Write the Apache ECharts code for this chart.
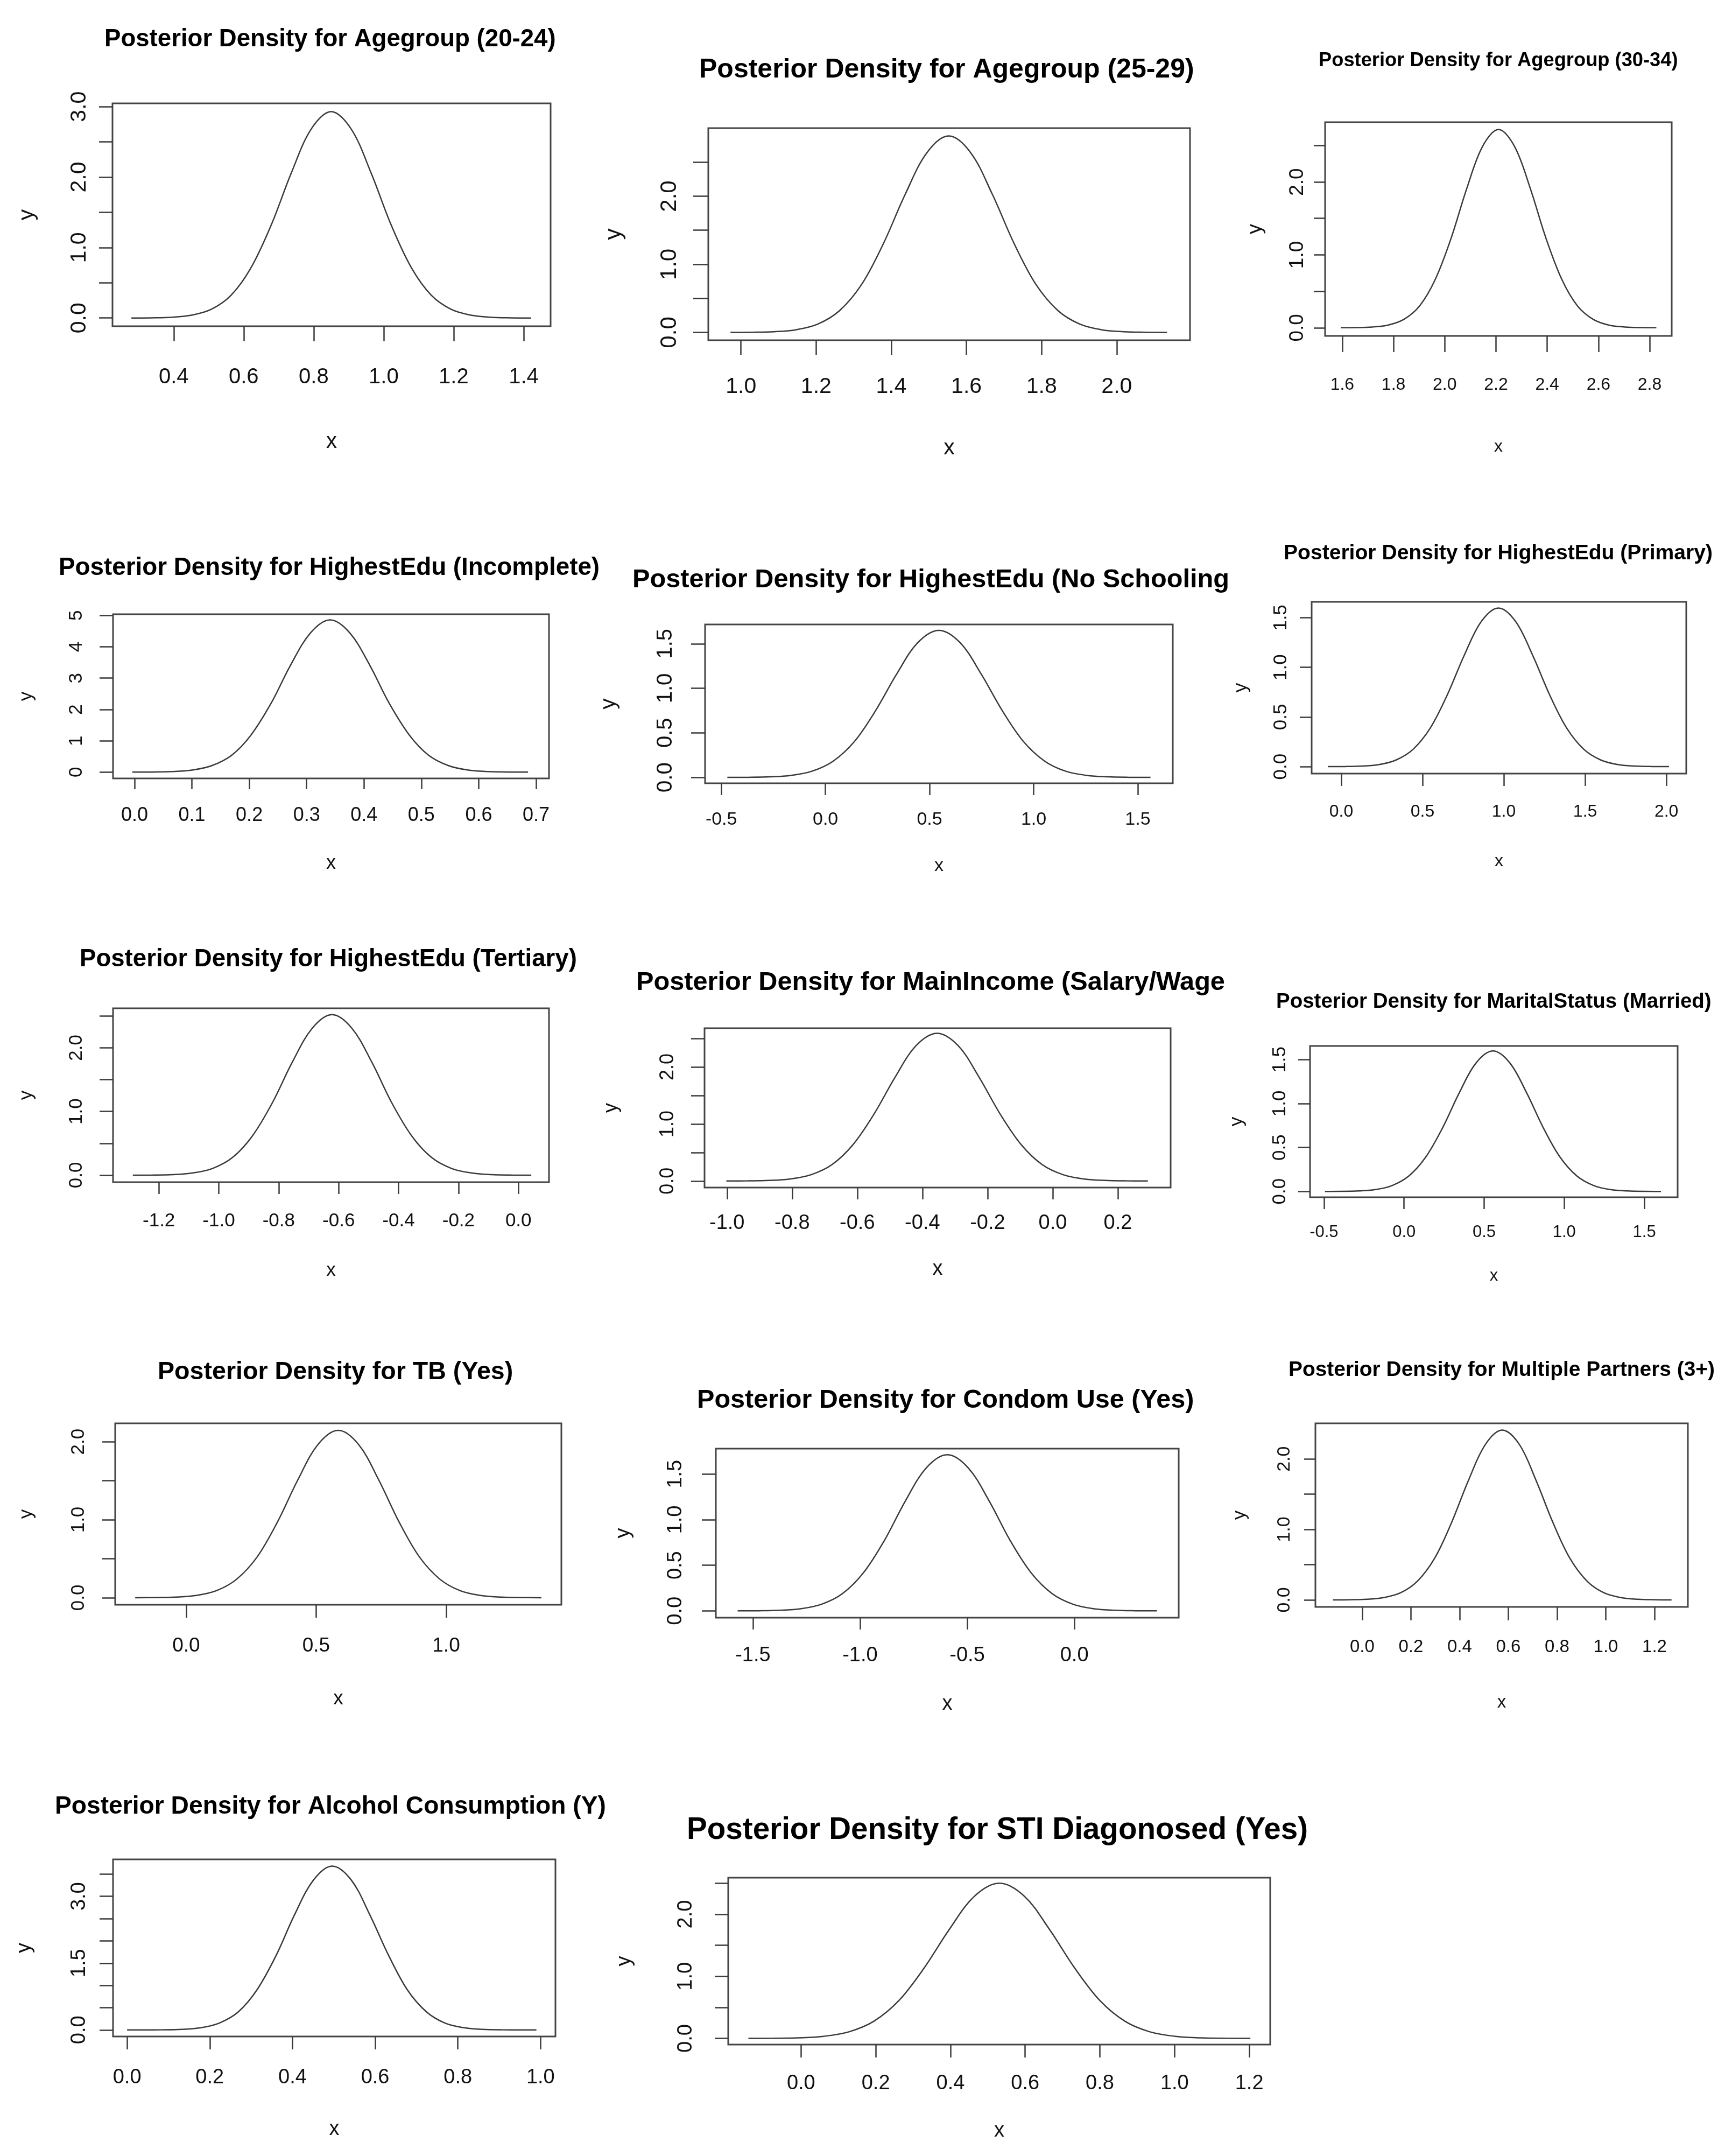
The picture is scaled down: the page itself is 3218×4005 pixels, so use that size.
<!DOCTYPE html>
<html><head><meta charset="utf-8">
<script src="https://cdn.jsdelivr.net/npm/echarts@6/dist/echarts.min.js"></script>
<style>html,body{margin:0;padding:0;background:#fff}#c{width:3218px;height:4005px}</style>
</head><body><div id="c"></div>
<script>
// ---------- titles ----------
const titles = [
  'Posterior Density for Agegroup (20-24)',
  'Posterior Density for Agegroup (25-29)',
  'Posterior Density for Agegroup (30-34)',
  'Posterior Density for HighestEdu (Incomplete)',
  'Posterior Density for HighestEdu (No Schooling',
  'Posterior Density for HighestEdu (Primary)',
  'Posterior Density for HighestEdu (Tertiary)',
  'Posterior Density for MainIncome (Salary/Wage',
  'Posterior Density for MaritalStatus (Married)',
  'Posterior Density for TB (Yes)',
  'Posterior Density for Condom Use (Yes)',
  'Posterior Density for Multiple Partners (3+)',
  'Posterior Density for Alcohol Consumption (Y)',
  'Posterior Density for STI Diagonosed (Yes)'
];

// ---------- series values (x, density) ----------
const age2024X = [0.279,0.336,0.393,0.450,0.507,0.564,0.621,0.679,0.736,0.793,0.850,0.907,0.964,1.021,1.079,1.136,1.193,1.250,1.307,1.364,1.421];
const age2024Y = [0.000,0.002,0.010,0.039,0.122,0.323,0.715,1.325,2.059,2.683,2.930,2.683,2.059,1.325,0.715,0.323,0.122,0.039,0.010,0.002,0.000];
const age2529X = [0.972,1.030,1.088,1.146,1.204,1.262,1.321,1.379,1.437,1.495,1.553,1.611,1.669,1.727,1.785,1.844,1.902,1.960,2.018,2.076,2.134];
const age2529Y = [0.000,0.002,0.010,0.038,0.121,0.318,0.704,1.304,2.027,2.641,2.885,2.641,2.027,1.304,0.704,0.318,0.121,0.038,0.010,0.002,0.000];
const age3034X = [1.594,1.655,1.717,1.778,1.840,1.902,1.963,2.025,2.086,2.148,2.210,2.272,2.334,2.395,2.457,2.518,2.580,2.641,2.703,2.765,2.826];
const age3034Y = [0.000,0.002,0.010,0.036,0.114,0.300,0.663,1.230,1.911,2.490,2.720,2.490,1.911,1.230,0.663,0.300,0.114,0.036,0.010,0.002,0.000];
const eduIncX = [-0.004,0.031,0.065,0.100,0.134,0.169,0.203,0.238,0.272,0.307,0.341,0.375,0.410,0.444,0.479,0.513,0.548,0.582,0.617,0.651,0.686];
const eduIncY = [0.001,0.004,0.017,0.065,0.203,0.536,1.185,2.197,3.415,4.450,4.860,4.450,3.415,2.197,1.185,0.536,0.203,0.065,0.017,0.004,0.001];
const eduNoX = [-0.471,-0.369,-0.268,-0.166,-0.065,0.037,0.139,0.240,0.342,0.443,0.545,0.647,0.748,0.850,0.951,1.053,1.154,1.256,1.357,1.459,1.561];
const eduNoY = [0.000,0.001,0.006,0.022,0.069,0.182,0.402,0.746,1.159,1.511,1.650,1.511,1.159,0.746,0.402,0.182,0.069,0.022,0.006,0.001,0.000];
const eduPriX = [-0.082,0.023,0.128,0.233,0.338,0.443,0.548,0.652,0.757,0.862,0.967,1.072,1.177,1.282,1.386,1.491,1.596,1.701,1.806,1.911,2.016];
const eduPriY = [0.000,0.001,0.006,0.021,0.067,0.176,0.390,0.722,1.123,1.463,1.598,1.463,1.123,0.722,0.390,0.176,0.067,0.021,0.006,0.001,0.000];
const eduTerX = [-1.287,-1.221,-1.154,-1.088,-1.021,-0.954,-0.888,-0.821,-0.755,-0.688,-0.622,-0.556,-0.489,-0.423,-0.356,-0.290,-0.223,-0.156,-0.090,-0.023,0.043];
const eduTerY = [0.000,0.002,0.009,0.034,0.105,0.278,0.615,1.139,1.771,2.307,2.520,2.307,1.771,1.139,0.615,0.278,0.105,0.034,0.009,0.002,0.000];
const incomeX = [-1.002,-0.937,-0.873,-0.808,-0.743,-0.678,-0.614,-0.549,-0.484,-0.420,-0.355,-0.290,-0.226,-0.161,-0.096,-0.032,0.033,0.098,0.162,0.227,0.292];
const incomeY = [0.000,0.002,0.009,0.034,0.108,0.286,0.632,1.171,1.820,2.371,2.590,2.371,1.820,1.171,0.632,0.286,0.108,0.034,0.009,0.002,0.000];
const marriedX = [-0.494,-0.389,-0.284,-0.180,-0.075,0.030,0.135,0.240,0.345,0.450,0.555,0.660,0.765,0.870,0.974,1.079,1.184,1.289,1.394,1.499,1.604];
const marriedY = [0.000,0.001,0.006,0.021,0.067,0.176,0.390,0.722,1.123,1.463,1.598,1.463,1.123,0.722,0.390,0.176,0.067,0.021,0.006,0.001,0.000];
const tbX = [-0.196,-0.118,-0.040,0.038,0.116,0.194,0.273,0.351,0.429,0.507,0.585,0.663,0.741,0.819,0.897,0.976,1.054,1.132,1.210,1.288,1.366];
const tbY = [0.000,0.002,0.008,0.029,0.090,0.237,0.523,0.970,1.507,1.964,2.145,1.964,1.507,0.970,0.523,0.237,0.090,0.029,0.008,0.002,0.000];
const condomX = [-1.571,-1.474,-1.376,-1.278,-1.180,-1.082,-0.984,-0.886,-0.789,-0.691,-0.593,-0.495,-0.397,-0.300,-0.202,-0.104,-0.006,0.092,0.189,0.287,0.385];
const condomY = [0.000,0.001,0.006,0.023,0.072,0.189,0.418,0.774,1.204,1.568,1.713,1.568,1.204,0.774,0.418,0.189,0.072,0.023,0.006,0.001,0.000];
const partnersX = [-0.120,-0.051,0.019,0.088,0.158,0.227,0.297,0.366,0.436,0.506,0.575,0.645,0.714,0.784,0.853,0.923,0.992,1.062,1.131,1.201,1.270];
const partnersY = [0.000,0.002,0.009,0.032,0.101,0.266,0.588,1.090,1.694,2.207,2.410,2.207,1.694,1.090,0.588,0.266,0.101,0.032,0.009,0.002,0.000];
const alcoholX = [0.000,0.041,0.087,0.132,0.178,0.223,0.269,0.314,0.360,0.405,0.451,0.496,0.542,0.587,0.633,0.678,0.724,0.769,0.815,0.860,0.906,0.951,0.990];
const alcoholY = [0.000,0.001,0.003,0.013,0.049,0.154,0.406,0.898,1.664,2.586,3.369,3.680,3.369,2.586,1.664,0.898,0.406,0.154,0.049,0.013,0.003,0.001,0.000];
const stiX = [-0.141,-0.074,-0.007,0.060,0.128,0.195,0.262,0.329,0.397,0.464,0.531,0.598,0.665,0.733,0.800,0.867,0.934,1.002,1.069,1.136,1.203];
const stiY = [0.000,0.002,0.009,0.033,0.105,0.276,0.610,1.130,1.757,2.289,2.500,2.289,1.757,1.130,0.610,0.276,0.105,0.033,0.009,0.002,0.000];

// ---------- tick values ----------
const xTicksA = [0.4,0.6,0.8,1.0,1.2,1.4];
const xTicksB = [1.0,1.2,1.4,1.6,1.8,2.0];
const xTicksC = [1.6,1.8,2.0,2.2,2.4,2.6,2.8];
const xTicksD = [0.0,0.1,0.2,0.3,0.4,0.5,0.6,0.7];
const xTicksE = [-0.5,0.0,0.5,1.0,1.5];
const xTicksF = [0.0,0.5,1.0,1.5,2.0];
const xTicksG = [-1.2,-1.0,-0.8,-0.6,-0.4,-0.2,0.0];
const xTicksH = [-1.0,-0.8,-0.6,-0.4,-0.2,0.0,0.2];
const xTicksI = [-0.5,0.0,0.5,1.0,1.5];
const xTicksJ = [0.0,0.5,1.0];
const xTicksK = [-1.5,-1.0,-0.5,0.0];
const xTicksL = [0.0,0.2,0.4,0.6,0.8,1.0,1.2];
const xTicksM = [0.0,0.2,0.4,0.6,0.8,1.0];
const xTicksN = [0.0,0.2,0.4,0.6,0.8,1.0,1.2];

const yTicks30 = [0,0.5,1.0,1.5,2.0,2.5,3.0];
const yTicks25 = [0,0.5,1.0,1.5,2.0,2.5];
const yTicks20 = [0,0.5,1.0,1.5,2.0];
const yTicks15 = [0,0.5,1.0,1.5];
const yTicks5 = [0,1,2,3,4,5];
const yTicks35 = [0,0.5,1.0,1.5,2.0,2.5,3.0,3.5];
const yLabels30 = [0,1,2,3];
const yLabels20 = [0,1,2];
const yLabels15 = [0,0.5,1.0,1.5];
const yLabels5 = [0,1,2,3,4,5];
const yLabelsAlc = [0,1.5,3.0];

const panelSeries = [
  [age2024X, age2024Y, xTicksA, yTicks30, yLabels30, 1],
  [age2529X, age2529Y, xTicksB, yTicks25, yLabels20, 1],
  [age3034X, age3034Y, xTicksC, yTicks25, yLabels20, 1],
  [eduIncX, eduIncY, xTicksD, yTicks5, yLabels5, 0],
  [eduNoX, eduNoY, xTicksE, yTicks15, yLabels15, 1],
  [eduPriX, eduPriY, xTicksF, yTicks15, yLabels15, 1],
  [eduTerX, eduTerY, xTicksG, yTicks25, yLabels20, 1],
  [incomeX, incomeY, xTicksH, yTicks25, yLabels20, 1],
  [marriedX, marriedY, xTicksI, yTicks15, yLabels15, 1],
  [tbX, tbY, xTicksJ, yTicks20, yLabels20, 1],
  [condomX, condomY, xTicksK, yTicks15, yLabels15, 1],
  [partnersX, partnersY, xTicksL, yTicks20, yLabels20, 1],
  [alcoholX, alcoholY, xTicksM, yTicks35, yLabelsAlc, 1],
  [stiX, stiY, xTicksN, yTicks25, yLabels20, 1]
];

// ---------- layout (positions / sizes / styles) ----------
const FONT = "'Liberation Sans', Arial, Helvetica, sans-serif";
// box [l,t,r,b]; xr, yr axis ranges; tl [left, top, size]; xl [size, margin, tick, nameGap]; yl [size, margin, tick, nameGap]
const layout = [
  {box:[209,192,1023,606],  xr:[0.225,1.477],  yr:[-0.117,3.047], tl:[194,50,45.6],   xl:[40,75,28,195], yl:[41,41,25,138]},
  {box:[1316,238,2211,632], xr:[0.913,2.195],  yr:[-0.115,3.0],   tl:[1299,105,50],   xl:[41,66,27,180], yl:[42,51,28,154]},
  {box:[2462,227,3106,624], xr:[1.533,2.886],  yr:[-0.112,2.82],  tl:[2450,95,36.3],  xl:[32,75,30,190], yl:[37,33,21,111]},
  {box:[210,1141,1020,1446],xr:[-0.0375,0.7225],yr:[-0.2,5.04],   tl:[109,1032,45.8], xl:[36,51,20,140], yl:[35,50,25,143]},
  {box:[1310,1160,2179,1455],xr:[-0.578,1.668],yr:[-0.066,1.716], tl:[1175,1053,48.7],xl:[34,51,22,137], yl:[40,53,26,158]},
  {box:[2437,1118,3133,1437],xr:[-0.182,2.122],yr:[-0.07,1.66],   tl:[2385,1009,39.1],xl:[32,55,23,147], yl:[35,39,22,113]},
  {box:[210,1873,1020,2196],xr:[-1.353,0.102], yr:[-0.11,2.62],   tl:[148,1759,45.6], xl:[35,55,22,147], yl:[35,50,25,143]},
  {box:[1309,1910,2175,2206],xr:[-1.069,0.362],yr:[-0.115,2.68],  tl:[1182,1801,48.7],xl:[38,48,22,133], yl:[36,50,25,155]},
  {box:[2434,1943,3117,2224],xr:[-0.587,1.708],yr:[-0.066,1.655], tl:[2371,1842,38.5],xl:[31,50,22,131], yl:[35,38,22,118]},
  {box:[214,2644,1043,2981],xr:[-0.273,1.443], yr:[-0.09,2.235],  tl:[293,2526,46.6], xl:[37,58,24,156], yl:[35,50,24,147]},
  {box:[1330,2691,2190,3005],xr:[-1.673,0.487],yr:[-0.075,1.78],  tl:[1295,2577,48.6],xl:[38,52,22,142], yl:[38,55,26,152]},
  {box:[2444,2644,3136,2985],xr:[-0.192,1.337],yr:[-0.1,2.506],   tl:[2394,2526,38.9],xl:[33,58,25,161], yl:[34,40,21,123]},
  {box:[210,3454,1032,3783],xr:[-0.034,1.036], yr:[-0.147,3.83],  tl:[102,3333,46.2], xl:[38,58,24,154], yl:[38,43,25,145]},
  {box:[1353,3488,2360,3798],xr:[-0.195,1.256],yr:[-0.1,2.59],    tl:[1276,3372,56.6],xl:[38,54,24,142], yl:[38,59,25,173]}
];

const LINE = '#3a3a3a';
const option = {animation:false, backgroundColor:'#fff', title:[], grid:[], xAxis:[], yAxis:[], series:[]};
panelSeries.forEach((p, i) => {
  const L = layout[i];
  const [l,t,r,b] = L.box;
  const [xs, ys, xt, yt, yl, dec] = p;
  option.grid.push({left:l, top:t, width:r-l, height:b-t, show:true, borderColor:'#444', borderWidth:3, backgroundColor:'rgba(0,0,0,0)', containLabel:false});
  option.title.push({text:titles[i], left:L.tl[0], top:L.tl[1], padding:0,
    textStyle:{fontSize:L.tl[2], fontWeight:'bold', fontFamily:FONT, color:'#000'}});
  option.xAxis.push({type:'value', gridIndex:i, min:L.xr[0], max:L.xr[1], position:'bottom',
    splitLine:{show:false}, axisLine:{show:false, onZero:false},
    axisTick:{show:true, customValues:xt, length:L.xl[2], lineStyle:{color:LINE, width:2.5}},
    axisLabel:{show:true, customValues:xt, margin:L.xl[1], fontSize:L.xl[0], fontFamily:FONT, color:'#111',
      formatter:v => Number(v).toFixed(1)},
    name:'x', nameLocation:'middle', nameGap:L.xl[3],
    nameTextStyle:{fontSize:L.xl[0], fontFamily:FONT, color:'#111'}});
  option.yAxis.push({type:'value', gridIndex:i, min:L.yr[0], max:L.yr[1], position:'left',
    splitLine:{show:false}, axisLine:{show:false, onZero:false},
    axisTick:{show:true, customValues:yt, length:L.yl[2], lineStyle:{color:LINE, width:2.5}},
    axisLabel:{show:true, customValues:yl, rotate:90, margin:L.yl[1], fontSize:L.yl[0], fontFamily:FONT, color:'#111',
      formatter:v => Number(v).toFixed(dec)},
    name:'y', nameLocation:'middle', nameGap:L.yl[3], nameRotate:90,
    nameTextStyle:{fontSize:L.yl[0], fontFamily:FONT, color:'#111'}});
  option.series.push({type:'line', xAxisIndex:i, yAxisIndex:i, showSymbol:false, smooth:0.35,
    data: xs.map((x,k) => [x, ys[k]]), lineStyle:{color:LINE, width:2.5}});
});

const chart = echarts.init(document.getElementById('c'), null, {renderer:'canvas', width:3218, height:4005});
chart.setOption(option);
</script></body></html>
